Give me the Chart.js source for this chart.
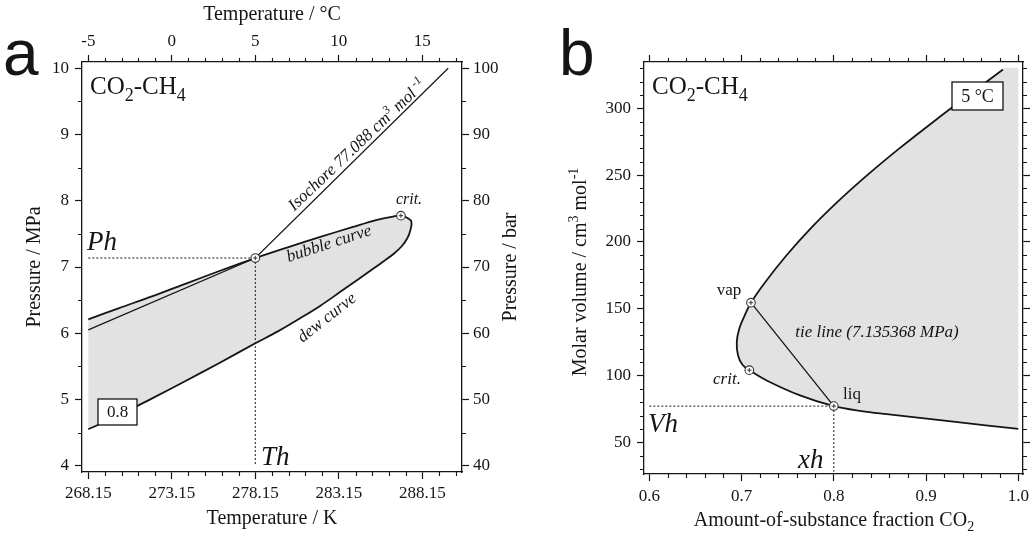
<!DOCTYPE html>
<html>
<head>
<meta charset="utf-8">
<script src="https://cdn.jsdelivr.net/npm/chart.js@4.4.1/dist/chart.umd.min.js"></script>
<style>
  html, body { margin: 0; padding: 0; background: #fff; }
  #wrap { position: relative; width: 1033px; height: 533px; }
  canvas { position: absolute; top: 0; }
</style>
</head>
<body>
<div id="wrap">
  <canvas id="chartA" width="520" height="533" style="left:0"></canvas>
  <canvas id="chartB" width="513" height="533" style="left:520px"></canvas>
</div>
<script>
// ---------- panel a : p-T envelope, x(CO2) = 0.8 ----------
const kelvinTicks = [268.15, 273.15, 278.15, 283.15, 288.15];
const kelvinLabels = ["268.15", "273.15", "278.15", "283.15", "288.15"];
const celsiusTicks = [-5, 0, 5, 10, 15];
const celsiusLabels = ["-5", "0", "5", "10", "15"];
const mpaTicks = [4, 5, 6, 7, 8, 9, 10];
const barTicks = [40, 50, 60, 70, 80, 90, 100];

// bubble curve, 268.15 K up to the critical point
const bubbleT = [268.15, 270, 272, 274, 276, 278.15, 280, 282, 284, 285.5, 286.4, 286.87];
const bubbleP = [6.21, 6.38, 6.56, 6.75, 6.94, 7.135, 7.29, 7.45, 7.605, 7.715, 7.762, 7.775];
// dew curve, round the nose and back down to 268.15 K
const dewT = [287.29, 287.5, 287.44, 287.26, 286.93, 286.46, 285.86, 285.14, 284.3, 283.22, 282.03, 280.83, 279.5, 278.15, 276, 274, 272, 270, 268.15];
const dewP = [7.737, 7.683, 7.559, 7.438, 7.317, 7.204, 7.091, 6.961, 6.811, 6.621, 6.413, 6.226, 6.028, 5.848, 5.551, 5.283, 5.021, 4.764, 4.55];
// isochore 77.088 cm3/mol
const isoT = [268.15, 278.15, 289.7];
const isoP = [6.05, 7.135368, 10.0];

const Th = 278.15, Ph = 7.135368;
const critA = { x: 286.87, y: 7.775 };

// ---------- panel b : V-x section at 5 °C ----------
const fracTicks = [0.6, 0.7, 0.8, 0.9, 1.0];
const fracLabels = ["0.6", "0.7", "0.8", "0.9", "1.0"];
const volTicks = [50, 100, 150, 200, 250, 300];

// saturation curve, from the top right round the nose to x = 1
const envX = [0.9834, 0.9463, 0.9081, 0.8711, 0.8363, 0.804, 0.7747, 0.7488, 0.7258, 0.7102, 0.7034, 0.6975, 0.6948, 0.6962, 0.701, 0.7084, 0.7272, 0.7634, 0.8, 0.83, 0.8573, 0.9295, 1.0];
const envV = [329.1, 310, 290, 270, 250, 230, 210, 190, 170, 154.5, 145, 135, 125, 115, 108, 104, 96.3, 85.1, 77.088, 73.4, 71.1, 65.4, 60.0];

const vap = { x: 0.7102, y: 154.5 };
const liq = { x: 0.8, y: 77.088 };
const critB = { x: 0.7084, y: 104.0 };
const xh = 0.8, Vh = 77.088;

const SERIF = '"Liberation Serif", "Times New Roman", serif';
const INK = "#151515";
const SHADE = "#e2e2e2";

const pts = (xs, ys) => xs.map((x, i) => ({ x, y: ys[i] }));

function axis(position, min, max, majors, labels, size, pad) {
  return {
    type: "linear", position, min, max,
    afterBuildTicks: s => { s.ticks = majors.map(v => ({ value: v })); },
    afterFit: s => {
      if (position === "top" || position === "bottom") s.height = size; else s.width = size;
      s.paddingLeft = 0; s.paddingRight = 0; s.paddingTop = 0; s.paddingBottom = 0;
    },
    ticks: {
      autoSkip: false, maxRotation: 0, minRotation: 0, padding: pad,
      color: INK, font: { family: SERIF, size: 17 },
      callback: (v, i) => (labels ? labels[i] : "")
    },
    grid: { drawOnChartArea: false, drawTicks: true, tickLength: 7, tickWidth: 1.2, tickColor: INK },
    border: { display: true, color: INK, width: 1.3 }
  };
}

// short minor ticks, placed with the scales' own getPixelForValue
function minorTicks(spec) {
  return {
    id: "minorTicks",
    afterDraw(chart) {
      const ctx = chart.ctx;
      ctx.save();
      ctx.strokeStyle = INK;
      ctx.lineWidth = 1.1;
      ctx.beginPath();
      for (const id in spec) {
        const s = chart.scales[id];
        const m = spec[id];
        const n = Math.round((m.end - m.start) / m.step);
        for (let k = 0; k <= n; k++) {
          const v = Math.round((m.start + k * m.step) * 1e6) / 1e6;
          if (m.majors.some(t => Math.abs(t - v) < 1e-6)) continue;
          const p = Math.round(s.getPixelForValue(v)) + 0.5;
          if (s.position === "bottom") { ctx.moveTo(p, s.top); ctx.lineTo(p, s.top + 4); }
          if (s.position === "top") { ctx.moveTo(p, s.bottom); ctx.lineTo(p, s.bottom - 4); }
          if (s.position === "left") { ctx.moveTo(s.right, p); ctx.lineTo(s.right - 4, p); }
          if (s.position === "right") { ctx.moveTo(s.left, p); ctx.lineTo(s.left + 4, p); }
        }
      }
      ctx.stroke();
      ctx.restore();
    }
  };
}

// text with sub/superscripts: parts = [[text, 0 normal | 1 sub | 2 sup], ...]
function rich(ctx, parts, x, y, size, style, align) {
  const fonts = parts.map(p => `${style} ${p[1] ? Math.round(size * 0.7) : size}px ${SERIF}`);
  const widths = parts.map((p, i) => { ctx.font = fonts[i]; return ctx.measureText(p[0]).width; });
  const w = widths.reduce((a, b) => a + b, 0);
  let cx = align === "center" ? x - w / 2 : align === "right" ? x - w : x;
  ctx.textAlign = "left";
  ctx.textBaseline = "alphabetic";
  parts.forEach((p, i) => {
    ctx.font = fonts[i];
    const dy = p[1] === 1 ? size * 0.27 : p[1] === 2 ? -size * 0.4 : 0;
    ctx.fillText(p[0], cx, y + dy);
    cx += widths[i];
  });
}

function turned(ctx, cx, cy, deg, fn) {
  ctx.save();
  ctx.translate(cx, cy);
  ctx.rotate(deg * Math.PI / 180);
  fn();
  ctx.restore();
}

function boxed(ctx, text, x, y, w, h, size) {
  ctx.fillStyle = "#fff";
  ctx.fillRect(x, y, w, h);
  ctx.strokeStyle = INK;
  ctx.lineWidth = 1.3;
  ctx.strokeRect(x, y, w, h);
  ctx.fillStyle = INK;
  ctx.font = `${size}px ${SERIF}`;
  ctx.textAlign = "center";
  ctx.textBaseline = "middle";
  ctx.fillText(text, x + w / 2, y + h / 2 + 1);
}

const notesA = {
  id: "notesA",
  afterDraw(chart) {
    const ctx = chart.ctx;
    ctx.save();
    ctx.fillStyle = INK;
    ctx.font = '64px "Liberation Sans", Arial, sans-serif';
    ctx.textAlign = "left";
    ctx.textBaseline = "alphabetic";
    ctx.fillText("a", 3, 75);

    rich(ctx, [["CO", 0], ["2", 1], ["-CH", 0], ["4", 1]], 90, 94, 25, "", "left");

    ctx.font = `italic 27px ${SERIF}`;
    ctx.fillText("Ph", 87, 250);
    ctx.fillText("Th", 261, 465);

    ctx.font = `italic 16px ${SERIF}`;
    ctx.textAlign = "center";
    ctx.fillText("crit.", 409, 204);

    turned(ctx, 357, 145, -43.5, () =>
      rich(ctx, [["Isochore 77.088 cm", 0], ["3", 2], [" mol", 0], [" -1", 2]], 0, 5, 17, "italic", "center"));
    turned(ctx, 329, 244, -18, () => {
      ctx.font = `italic 17px ${SERIF}`; ctx.textAlign = "center"; ctx.textBaseline = "middle";
      ctx.fillText("bubble curve", 0, 0);
    });
    turned(ctx, 327, 318, -38, () => {
      ctx.font = `italic 17px ${SERIF}`; ctx.textAlign = "center"; ctx.textBaseline = "middle";
      ctx.fillText("dew curve", 0, 0);
    });

    boxed(ctx, "0.8", 98, 399, 39, 26, 17);

    turned(ctx, 511, 267, -90, () => {
      ctx.font = `20px ${SERIF}`; ctx.fillStyle = INK; ctx.textAlign = "center"; ctx.textBaseline = "middle";
      ctx.fillText("Pressure / bar", 0, 0);
    });
    ctx.restore();
  }
};

const notesB = {
  id: "notesB",
  afterDraw(chart) {
    const ctx = chart.ctx;
    ctx.save();
    ctx.fillStyle = INK;
    ctx.font = '64px "Liberation Sans", Arial, sans-serif';
    ctx.textAlign = "left";
    ctx.textBaseline = "alphabetic";
    ctx.fillText("b", 39, 75);

    rich(ctx, [["CO", 0], ["2", 1], ["-CH", 0], ["4", 1]], 132, 94, 25, "", "left");

    boxed(ctx, "5 \u00b0C", 432, 82, 51, 28, 18);

    ctx.fillStyle = INK;
    ctx.font = `17px ${SERIF}`;
    ctx.textAlign = "center";
    ctx.textBaseline = "middle";
    ctx.fillText("vap", 209, 291);
    ctx.fillText("liq", 332, 395);
    ctx.font = `italic 17px ${SERIF}`;
    ctx.fillText("crit.", 207, 380);
    ctx.fillText("tie line (7.135368 MPa)", 357, 333);

    ctx.font = `italic 27px ${SERIF}`;
    ctx.textAlign = "left";
    ctx.textBaseline = "alphabetic";
    ctx.fillText("Vh", 128, 432);
    ctx.fillText("xh", 278, 468);

    turned(ctx, 60, 272, -90, () =>
      rich(ctx, [["Molar volume / cm", 0], ["3", 2], [" mol", 0], ["-1", 2]], 0, 6, 20, "", "center"));
    rich(ctx, [["Amount-of-substance fraction CO", 0], ["2", 1]], 314, 526, 20, "", "center");
    ctx.restore();
  }
};

const line = (data, extra) => Object.assign({
  data, showLine: true, pointRadius: 0, borderColor: INK, borderWidth: 1.8, fill: false, tension: 0
}, extra);

const marker = data => [
  { data, showLine: false, pointStyle: "cross", pointRadius: 2.2, pointBorderWidth: 1, pointBorderColor: "#333", order: 0 },
  { data, showLine: false, pointStyle: "circle", pointRadius: 4.3, pointBorderWidth: 1.1, pointBorderColor: "#333", pointBackgroundColor: "#fff", order: 1 }
];

const baseOptions = {
  responsive: false, animation: false, events: [],
  layout: { padding: 0 },
  plugins: { legend: { display: false }, tooltip: { enabled: false } }
};

const titleFont = { family: SERIF, size: 20 };

// ----- chart a -----
const envelopeA = pts(bubbleT, bubbleP).concat(pts(dewT, dewP));
const xA = axis("bottom", 267.773, 290.527, kelvinTicks, kelvinLabels, 61, 4);
xA.title = { display: true, text: "Temperature / K", color: INK, font: titleFont, padding: { top: 0, bottom: 2 } };
const xTopA = axis("top", 267.773 - 273.15, 290.527 - 273.15, celsiusTicks, celsiusLabels, 62, 3);
xTopA.title = { display: true, text: "Temperature / \u00b0C", color: INK, font: titleFont, padding: { top: 3, bottom: 0 } };
const yA = axis("left", 3.905, 10.095, mpaTicks, mpaTicks.map(String), 82, 6);
yA.title = { display: true, text: "Pressure / MPa", color: INK, font: titleFont, padding: { top: 23, bottom: 0 } };
const yRightA = axis("right", 39.05, 100.95, barTicks, barTicks.map(String), 58, 4);

new Chart(document.getElementById("chartA"), {
  type: "scatter",
  data: {
    datasets: [
      ...marker([{ x: Th, y: Ph }, critA]),
      line([{ x: 268.15, y: Ph }, { x: Th, y: Ph }], { borderWidth: 1, borderDash: [2, 2], order: 4 }),
      line([{ x: Th, y: Ph }, { x: Th, y: 4 }], { borderWidth: 1, borderDash: [2, 2], order: 4 }),
      line(pts(isoT, isoP), { borderWidth: 1.2, order: 5 }),
      line(envelopeA, { fill: "shape", backgroundColor: SHADE, tension: 0.35, order: 10 })
    ]
  },
  options: Object.assign({}, baseOptions, {
    scales: { x: xA, xTop: xTopA, y: yA, yRight: yRightA }
  }),
  plugins: [
    minorTicks({
      x: { start: 268.15, end: 290.15, step: 1, majors: kelvinTicks },
      xTop: { start: -5, end: 17, step: 1, majors: celsiusTicks },
      y: { start: 4, end: 10, step: 0.5, majors: mpaTicks },
      yRight: { start: 40, end: 100, step: 5, majors: barTicks }
    }),
    notesA
  ]
});

// ----- chart b -----
const envelopeB = pts(envX, envV);
const shadeB = envelopeB.concat([{ x: 1.0, y: 61 }, { x: 1.0, y: 329.5 }, { x: 0.999, y: 330.3 }, { x: 0.985, y: 330.3 }]);

new Chart(document.getElementById("chartB"), {
  type: "scatter",
  data: {
    datasets: [
      ...marker([vap, critB, liq]),
      line([{ x: 0.6, y: Vh }, { x: xh, y: Vh }], { borderWidth: 1, borderDash: [2, 2], order: 4 }),
      line([{ x: xh, y: Vh }, { x: xh, y: 28 }], { borderWidth: 1, borderDash: [2, 2], order: 4 }),
      line([vap, liq], { borderWidth: 1.3, order: 5 }),
      line(envelopeB, { tension: 0.35, order: 6 }),
      line(shadeB, { borderWidth: 0, borderColor: "rgba(0,0,0,0)", fill: "shape", backgroundColor: SHADE, tension: 0.35, order: 10 })
    ]
  },
  options: Object.assign({}, baseOptions, {
    scales: {
      x: axis("bottom", 0.59425, 1.0051, fracTicks, fracLabels, 59, 5),
      xTop: axis("top", 0.59425, 1.0051, fracTicks, null, 62, 3),
      y: axis("left", 26.27, 334.66, volTicks, volTicks.map(String), 124, 6),
      yRight: axis("right", 26.27, 334.66, volTicks, null, 10, 2)
    }
  }),
  plugins: [
    minorTicks({
      x: { start: 0.6, end: 1.0, step: 0.02, majors: fracTicks },
      xTop: { start: 0.6, end: 1.0, step: 0.02, majors: fracTicks },
      y: { start: 30, end: 330, step: 10, majors: volTicks },
      yRight: { start: 30, end: 330, step: 10, majors: volTicks }
    }),
    notesB
  ]
});
</script>
</body>
</html>
